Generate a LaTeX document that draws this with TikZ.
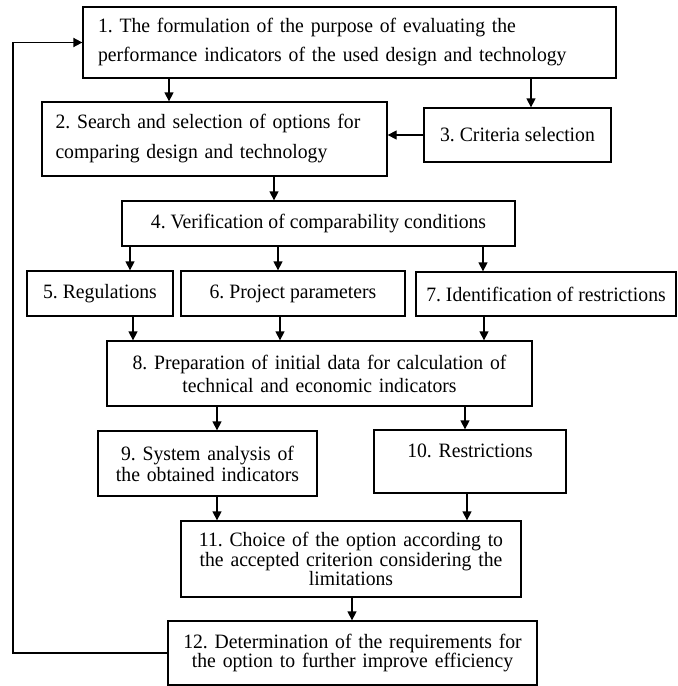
\documentclass[tikz,border=0pt]{standalone}
\usepackage{fontspec}
\setmainfont{Liberation Serif}[FakeStretch=0.965]
\usepackage{tikz}
\usetikzlibrary{arrows.meta,positioning,calc}
\frenchspacing

\begin{document}
\begin{tikzpicture}[x=0.5pt,y=-0.5pt,
  box/.style={draw,line width=0.65pt,inner sep=0pt,align=center},
  arr/.style={line width=0.65pt,-{Triangle[length=4.5pt,width=4.5pt]}},
  ls/.style={font=\fontsize{10.2}{#1}\selectfont}]
  \useasboundingbox (0,0) rectangle (678,686);
  % boxes
  \node[box,ls=14.5,align=left,minimum width=266.5pt,minimum height=35.5pt,text width=251.5pt] (b1) at (349.5,42.5)
    {1. The formulation of the purpose of evaluating the\\performance indicators of the used design and technology};
  \node[box,ls=15,align=left,minimum width=172.5pt,minimum height=37pt,text width=159pt] (b2) at (214.5,139)
    {2. Search and selection of options for\\comparing design and technology};
  \node[box,ls=12,minimum width=93.5pt,minimum height=27pt] (b3) at (517.5,135) {3. Criteria selection};
  \node[box,ls=12,minimum width=196.5pt,minimum height=22.5pt] (b4) at (318.5,223.5) {4. Verification of comparability conditions};
  \node[box,ls=12,minimum width=73pt,minimum height=22.5pt] (b5) at (100,293.5) {5. Regulations};
  \node[box,ls=12,minimum width=112pt,minimum height=22.5pt] (b6) at (293,293.5) {6. Project parameters};
  \node[box,ls=12,minimum width=130pt,minimum height=22pt] (b7) at (546,294) {7. Identification of restrictions};
  \node[box,ls=11.5,minimum width=212.5pt,minimum height=32.5pt,text width=205pt] (b8) at (319.5,373.5)
    {8. Preparation of initial data for calculation of\\technical and economic indicators};
  \node[box,ls=10.5,minimum width=109.5pt,minimum height=32.5pt,text width=105pt] (b9) at (207.5,463.5)
    {9. System analysis of\\the obtained indicators};
  \node[box,ls=10.5,minimum width=96pt,minimum height=31.5pt,text width=90pt] (b10) at (470,461.5)
    {10. Restrictions\\\mbox{}};
  \node[box,ls=9.75,minimum width=170pt,minimum height=38pt,text width=164pt] (b11) at (351,559)
    {11. Choice of the option according to\\the accepted criterion considering the\\limitations};
  \node[box,ls=9.5,minimum width=184.5pt,minimum height=32pt,text width=178pt] (b12) at (352.5,653)
    {12. Determination of the requirements for\\the option to further improve efficiency};
  % arrows
  \draw[arr] (b1.south -| 169,0) -- (b2.north -| 169,0);
  \draw[arr] (b1.south -| 531,0) -- (b3.north -| 531,0);
  \draw[arr] (b3.west) -- (b2.east |- b3.west);
  \draw[arr] (b2.south -| 274,0) -- (b4.north -| 274,0);
  \foreach \xa/\t in {130/b5,278/b6,483/b7}
    \draw[arr] (b4.south -| \xa,0) -- (\t.north -| \xa,0);
  \foreach \xa/\s in {133/b5,280/b6,484/b7}
    \draw[arr] (\s.south -| \xa,0) -- (b8.north -| \xa,0);
  \draw[arr] (b8.south -| 217,0) -- (b9.north -| 217,0);
  \draw[arr] (b8.south -| 465,0) -- (b10.north -| 465,0);
  \draw[arr] (b9.south -| 217,0) -- (b11.north -| 217,0);
  \draw[arr] (b10.south -| 467,0) -- (b11.north -| 467,0);
  \draw[arr] (b11.south -| 352,0) -- (b12.north -| 352,0);
  % feedback loop
  \coordinate (fb) at (13,653);
  \draw[arr,line width=0.9pt] (b12.west) -- (fb) |- (b1.west);
\end{tikzpicture}
\end{document}
